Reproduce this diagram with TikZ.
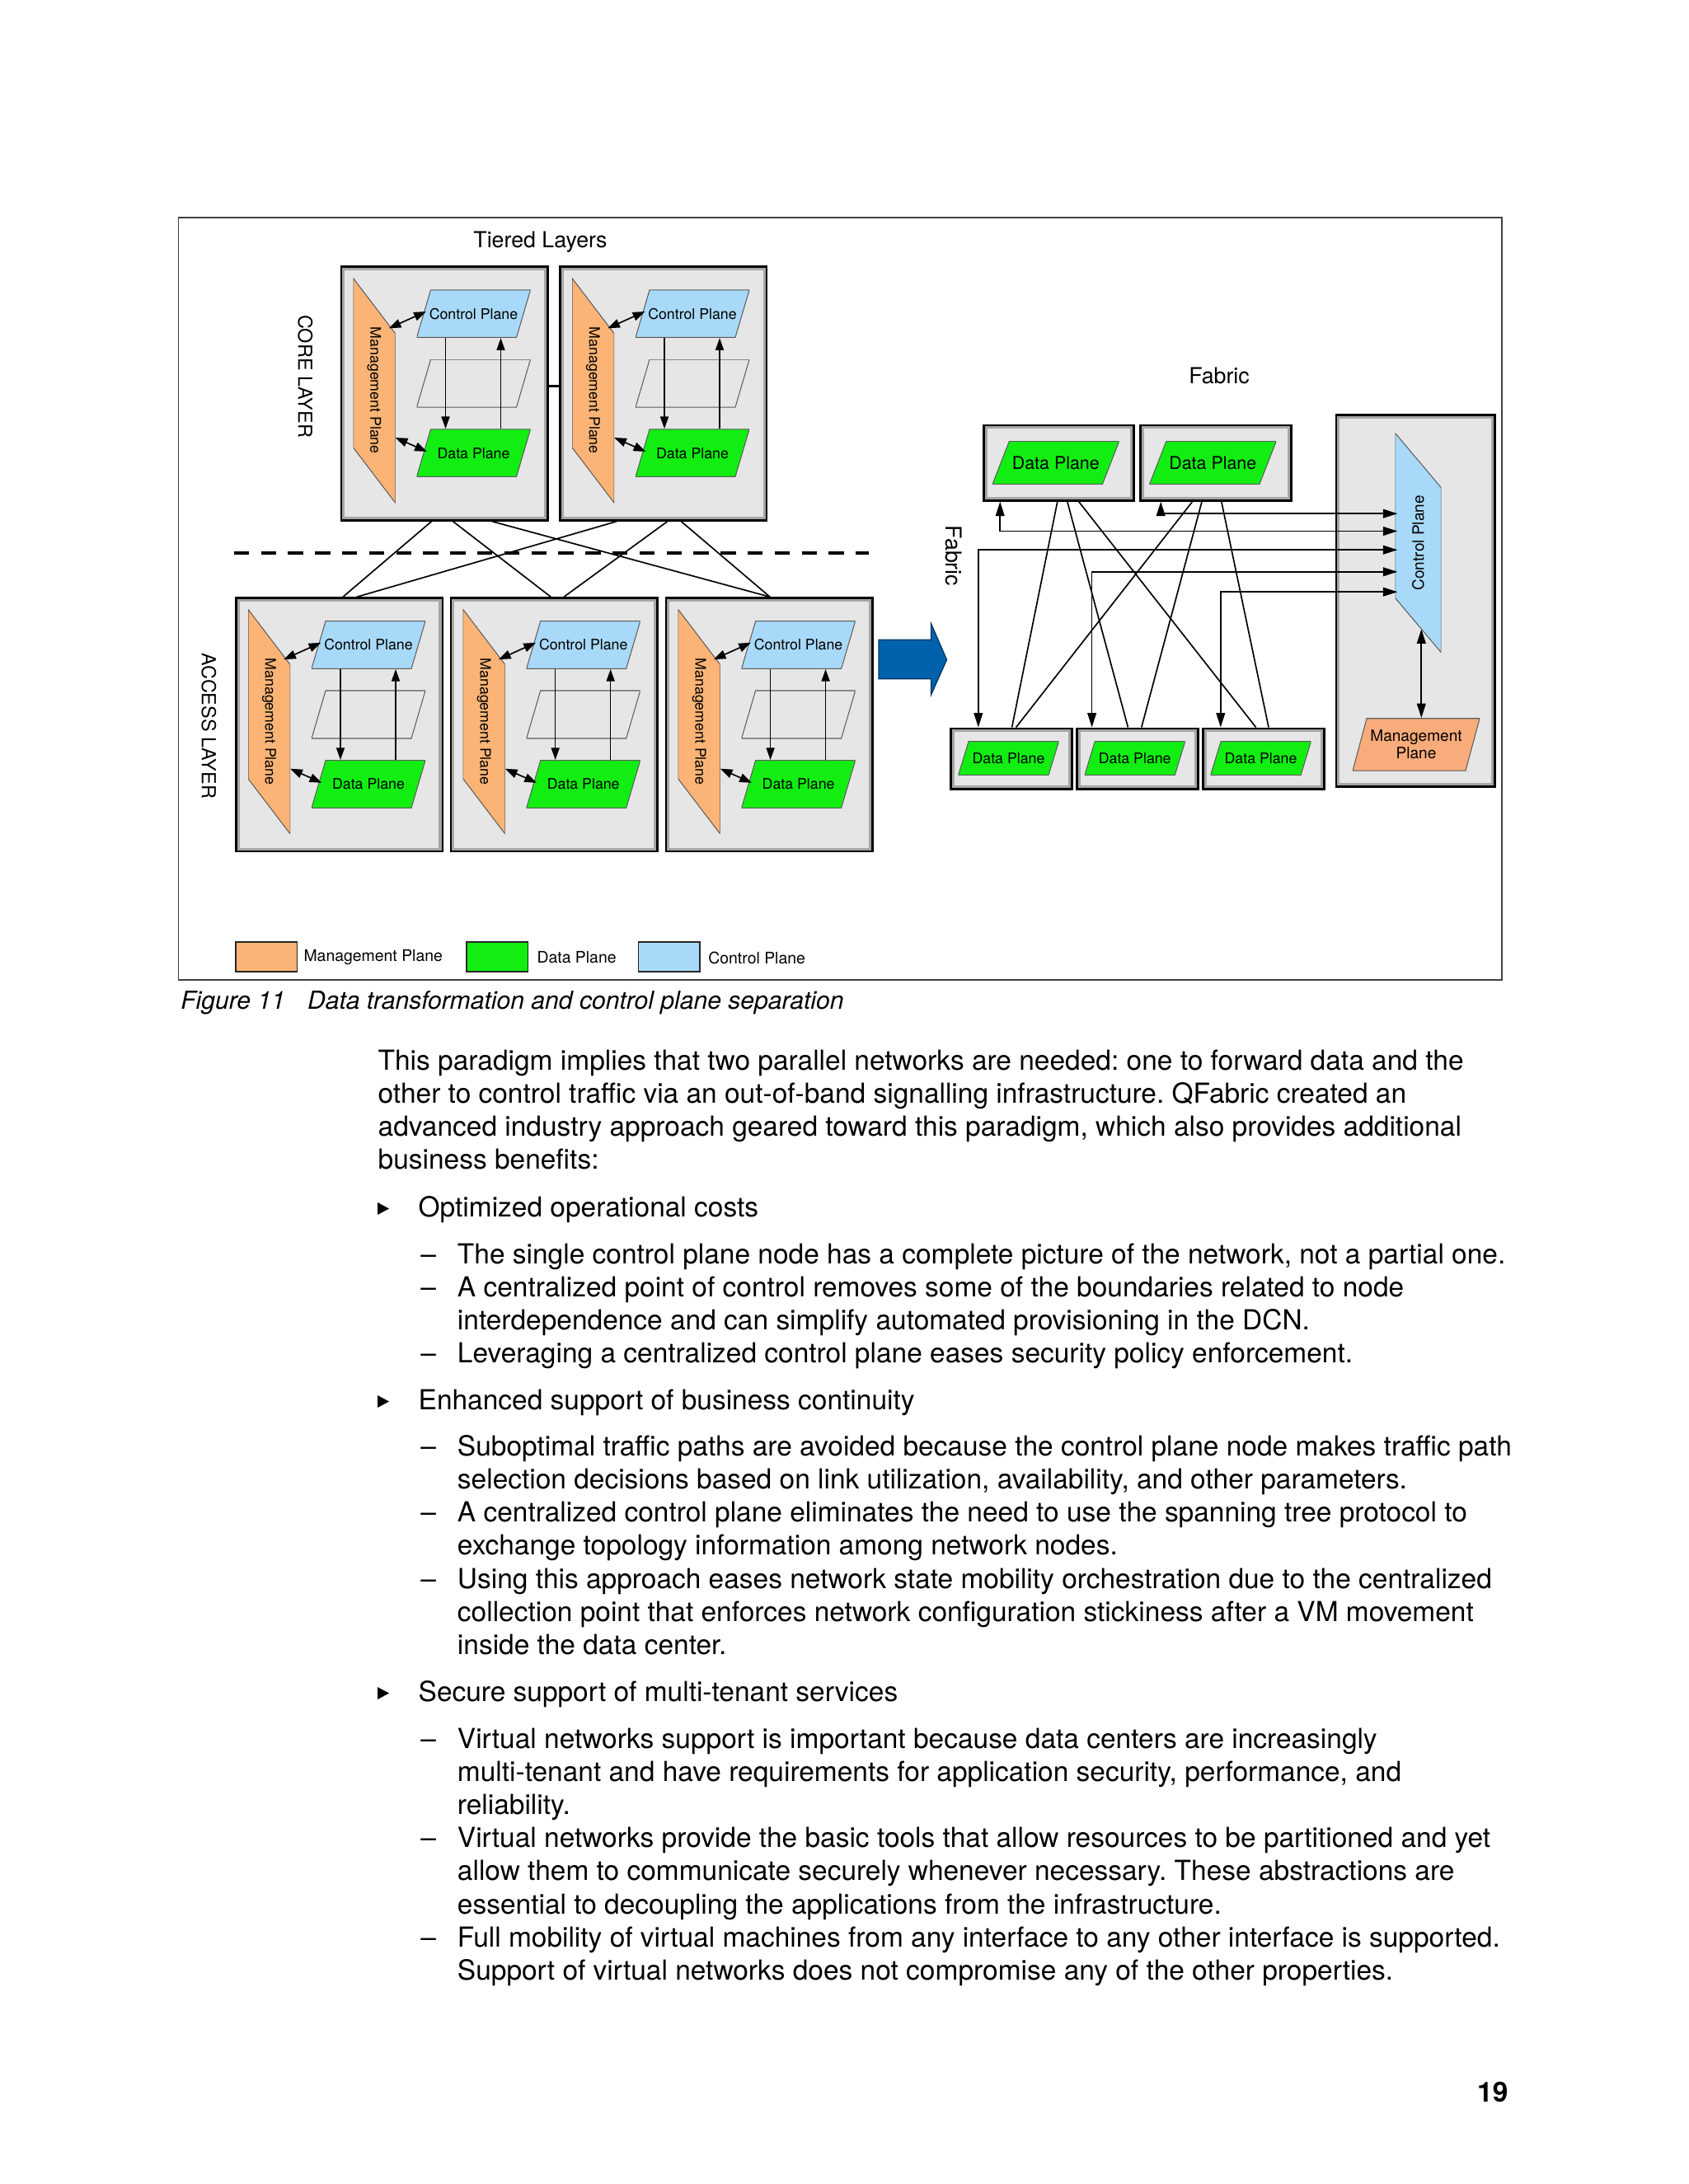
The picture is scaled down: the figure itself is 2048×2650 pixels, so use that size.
\documentclass[tikz,border=0pt]{standalone}
\usepackage{fontspec}
\setmainfont{TeX Gyre Heros}
\usepackage{graphicx}
\usetikzlibrary{arrows.meta,calc}
\frenchspacing

\definecolor{mgmtorange}{HTML}{FBB476}
\definecolor{fabricorange}{HTML}{F9AC7B}
\definecolor{ctrlblue}{HTML}{A9D9F8}
\definecolor{datagreen}{HTML}{12EE12}
\definecolor{boxgray}{HTML}{E6E6E6}
\definecolor{bandgray}{HTML}{A6A6A6}
\definecolor{arrowblue}{HTML}{0061AC}
\definecolor{planeedge}{HTML}{5A5A5A}

\newcommand{\pxl}{0.29877pt}

\begin{document}
\begin{tikzpicture}[
    x=0.29877pt, y=-0.29877pt,
    chassis/.style={draw=black, line width=0.8pt, fill=boxgray, inner sep=0, anchor=north west,
        path picture={\draw[bandgray, line width=2.6pt] (path picture bounding box.south west) rectangle (path picture bounding box.north east);}},
    lean/.store in=\planelean, lean=17,
    hplane/.style={inner sep=0, path picture={\draw[planeedge, line width=0.3pt, fill=#1]
        ([xshift=\planelean*\pxl]path picture bounding box.north west) -- (path picture bounding box.north east)
        -- ([xshift=-\planelean*\pxl]path picture bounding box.south east) -- (path picture bounding box.south west) -- cycle;}},
    vplane/.style={inner sep=0, path picture={\draw[planeedge, line width=0.3pt, fill=#1]
        (path picture bounding box.north west) -- ([yshift=-\planelean*\pxl]path picture bounding box.north east)
        -- (path picture bounding box.south east) -- ([yshift=\planelean*\pxl]path picture bounding box.south west) -- cycle;}},
    planefont/.style={font=\fontsize{5.3}{6}\selectfont},
    arr/.style={-{Triangle[length=4.4pt,width=3pt]}, line width=0.45pt},
    darr/.style={{Triangle[length=4.4pt,width=3.2pt]}-{Triangle[length=4.4pt,width=3.2pt]}, line width=0.5pt},
    farr/.style={{Triangle[length=5.2pt,width=3.2pt]}-{Triangle[length=5.2pt,width=3.2pt]}, line width=0.5pt},
    link/.style={line width=0.5pt},
    swatch/.style={draw=black!85, line width=0.5pt, minimum width=74.6*\pxl, minimum height=36*\pxl, inner sep=0},
    keytext/.style={anchor=west, inner sep=0, font=\fontsize{5.8}{7}\selectfont},
    bodytext/.style={anchor=base west, inner sep=0, font=\fontsize{10}{12}\selectfont}
]
    \useasboundingbox (0,0) rectangle (2048,2650);
    \fill[white] (0,0) rectangle (2048,2650);

    % figure frame
    \draw[black!75, line width=0.5pt] (216.5,264) rectangle (1822,1189);

    % tiered layers: two core and three access switches
    \foreach \n/\bx/\by in {c1/412.5/322.5, c2/678/322.5, a1/285/724.3, a2/545.7/724.3, a3/806.6/724.3} {
        \node[chassis, minimum width=250.5*\pxl, minimum height=307.5*\pxl] (sw\n) at (\bx,\by) {};
        \node[vplane=mgmtorange, lean=67, minimum width=51*\pxl, minimum height=272.5*\pxl, planefont] (mp\n) at ($(sw\n.north west)+(41.5,151.3)$) {\rotatebox{-90}{Management Plane}};
        \node[hplane=ctrlblue, lean=17, minimum width=138*\pxl, minimum height=57.6*\pxl, planefont] (cp\n) at ($(sw\n.north west)+(162,58.2)$) {Control Plane};
        \node[hplane=none, lean=17, minimum width=138*\pxl, minimum height=58*\pxl] (ep\n) at ($(sw\n.north west)+(162,142.7)$) {};
        \node[hplane=datagreen, lean=17, minimum width=138*\pxl, minimum height=57.6*\pxl, planefont] (dp\n) at ($(sw\n.north west)+(162,227.2)$) {Data Plane};
        \draw[arr] ([xshift=-34*\pxl]cp\n.south) -- ([xshift=-34*\pxl]dp\n.north);
        \draw[arr] ([xshift=33*\pxl]dp\n.north) -- ([xshift=33*\pxl]cp\n.south);
        \draw[darr] ($(mp\n.north east)+(-8.5,61.5)$) -- ($(cp\n.west)+(12,-2.7)$);
        \draw[darr] ($(mp\n.east)+(-0.5,57.2)$) -- ($(dp\n.west)+(13,-1.7)$);
    }

    \node[font=\fontsize{8}{9.6}\selectfont] (tiered) at (655.5,293.3) {Tiered Layers};
    \node[font=\fontsize{7}{8.4}\selectfont, rotate=-90] (corelabel) at (370.3,456.7) {CORE LAYER};
    \node[font=\fontsize{7}{8.4}\selectfont, rotate=-90] (accesslabel) at (253.3,880.7) {ACCESS LAYER};

    \draw[line width=1pt] ($(swc1.north east)+(0,146.2)$) -- ($(swc2.north west)+(0,146.2)$);
    \draw[line width=1.15pt, dash pattern=on 5.5pt off 4.3pt] (283.8,670.7) -- (1054,670.7);

    \draw[link] ($(swc1.south west)+(111,0)$) -- ($(swa1.north west)+(131,0)$);
    \draw[link] ($(swc1.south west)+(137,0)$) -- ($(swa2.north west)+(122.6,0)$);
    \draw[link] ($(swc1.south west)+(184.4,0)$) -- ($(swa3.north west)+(127.5,0)$);
    \draw[link] ($(swc2.south west)+(70,0)$) -- ($(swa1.north west)+(147.8,0)$);
    \draw[link] ($(swc2.south west)+(131.7,0)$) -- ($(swa2.north west)+(138.3,0)$);
    \draw[link] ($(swc2.south west)+(148.4,0)$) -- ($(swa3.north west)+(127.5,0)$);

    % transformation arrow
    \draw[fill=arrowblue, draw=arrowblue!60!black, line width=0.4pt] (1066,776.4) -- (1129.6,776.4) -- (1129.6,756.8) -- (1148.5,800.5) -- (1129.6,842.9) -- (1129.6,823.6) -- (1066,823.6) -- cycle;

    % fabric
    \node[font=\fontsize{8}{9.6}\selectfont] (fabrictitle) at (1479,456.2) {Fabric};
    \node[font=\fontsize{8}{9.6}\selectfont, rotate=-90] (fabricside) at (1157,674.5) {Fabric};

    \node[chassis, minimum width=182.6*\pxl, minimum height=91.3*\pxl] (fa) at (1191.8,514.7) {};
    \node[chassis, minimum width=182.6*\pxl, minimum height=91.3*\pxl] (fb) at (1382.3,514.7) {};
    \node[hplane=datagreen, lean=20.4, minimum width=153.8*\pxl, minimum height=52.3*\pxl, font=\fontsize{6.4}{7.5}\selectfont] (fdpa) at ($(fa.north west)+(89,46.9)$) {Data Plane};
    \node[hplane=datagreen, lean=20.4, minimum width=153.8*\pxl, minimum height=52.3*\pxl, font=\fontsize{6.4}{7.5}\selectfont] (fdpb) at ($(fb.north west)+(89,46.9)$) {Data Plane};

    \foreach \n/\bx in {1/1152, 2/1305.2, 3/1458} {
        \node[chassis, minimum width=147*\pxl, minimum height=73.7*\pxl] (f\n) at (\bx,882.5) {};
        \node[hplane=datagreen, lean=12.5, minimum width=121.9*\pxl, minimum height=41*\pxl, font=\fontsize{5.3}{6.4}\selectfont] (fdp\n) at ($(f\n.north west)+(71.5,37.7)$) {Data Plane};
    }

    \node[chassis, minimum width=192.7*\pxl, minimum height=450.5*\pxl] (ctrlbox) at (1619.5,502.5) {};
    \node[vplane=ctrlblue, lean=66, minimum width=55.6*\pxl, minimum height=266*\pxl, font=\fontsize{5.7}{7}\selectfont] (fcp) at (1720.5,658.7) {\rotatebox{90}{Control Plane}};
    \node[hplane=fabricorange, lean=17, minimum width=154*\pxl, minimum height=63.3*\pxl, font=\fontsize{5.7}{6.2}\selectfont, align=center] (fmp) at (1718,903.4) {Management\\Plane};

    \draw[link] ($(fa.south west)+(91,0)$) -- ($(f1.north west)+(75.6,0)$);
    \draw[link] ($(fa.south west)+(103,0)$) -- ($(f2.north west)+(63.2,0)$);
    \draw[link] ($(fa.south west)+(116.9,0)$) -- ($(f3.north west)+(65.6,0)$);
    \draw[link] ($(fb.south west)+(64.2,0)$) -- ($(f1.north west)+(80.6,0)$);
    \draw[link] ($(fb.south west)+(75.7,0)$) -- ($(f2.north west)+(79.6,0)$);
    \draw[link] ($(fb.south west)+(99.5,0)$) -- ($(f3.north west)+(81,0)$);

    \draw[farr] ($(fb.south west)+(25.9,0)$) |- ($(fcp.west)+(3.3,-35.5)$);
    \draw[farr] ($(fa.south west)+(21.4,0)$) |- ($(fcp.west)+(3.3,-14.2)$);
    \draw[farr] ($(f1.north west)+(34.8,0)$) |- ($(fcp.west)+(3.3,8.5)$);
    \draw[farr] ($(f2.north west)+(19.4,0)$) |- ($(fcp.west)+(3.3,35.1)$);
    \draw[farr] ($(f3.north west)+(22.8,0)$) |- ($(fcp.west)+(3.3,59.5)$);
    \draw[farr] ($(fcp.south)+(3.8,-29)$) -- ($(fmp.north)+(6.3,0)$);

    % legend
    \node[swatch, fill=mgmtorange] (keymp) at (323.1,1161.3) {};
    \node[keytext] (keymptext) at (367.9,1162) {Management Plane};
    \node[swatch, fill=datagreen] (keydp) at (603.2,1161.3) {};
    \node[keytext] (keydptext) at (650.9,1162) {Data Plane};
    \node[swatch, fill=ctrlblue] (keycp) at (811.7,1161.3) {};
    \node[keytext] (keycptext) at (858.7,1162) {Control Plane};

    % caption
    \node[anchor=base west, inner sep=0, font=\itshape\fontsize{9}{11}\selectfont] (capnum) at (218.6,1224) {Figure 11};
    \node[anchor=base west, inner sep=0, font=\itshape\fontsize{9}{11}\selectfont] (captext) at (372.5,1224) {Data transformation and control plane separation};

    % body text
    \node[bodytext] (p1) at (458,1298) {This paradigm implies that two parallel networks are needed: one to forward data and the};
    \node[bodytext] (p2) at (458,1338) {other to control traffic via an out-of-band signalling infrastructure. QFabric created an};
    \node[bodytext] (p3) at (458,1378) {advanced industry approach geared toward this paradigm, which also provides additional};
    \node[bodytext] (p4) at (458,1418) {business benefits:};

    \fill (458,1459) -- (458,1474) -- (472,1466.5) -- cycle;
    \node[bodytext] (b1) at (507,1476) {Optimized operational costs};
    \node[bodytext] (d1) at (509.6,1533) {–};
    \node[bodytext] (s1) at (554.3,1533) {The single control plane node has a complete picture of the network, not a partial one.};
    \node[bodytext] (d2) at (509.6,1573) {–};
    \node[bodytext] (s2) at (554.3,1573) {A centralized point of control removes some of the boundaries related to node};
    \node[bodytext] (s2b) at (554.3,1613) {interdependence and can simplify automated provisioning in the DCN.};
    \node[bodytext] (d3) at (509.6,1653) {–};
    \node[bodytext] (s3) at (554.3,1653) {Leveraging a centralized control plane eases security policy enforcement.};

    \fill (458,1693) -- (458,1708) -- (472,1700.5) -- cycle;
    \node[bodytext] (b2) at (507,1710) {Enhanced support of business continuity};
    \node[bodytext] (d4) at (509.6,1766) {–};
    \node[bodytext] (s4) at (554.3,1766) {Suboptimal traffic paths are avoided because the control plane node makes traffic path};
    \node[bodytext] (s4b) at (554.3,1806) {selection decisions based on link utilization, availability, and other parameters.};
    \node[bodytext] (d5) at (509.6,1846) {–};
    \node[bodytext] (s5) at (554.3,1846) {A centralized control plane eliminates the need to use the spanning tree protocol to};
    \node[bodytext] (s5b) at (554.3,1886) {exchange topology information among network nodes.};
    \node[bodytext] (d6) at (509.6,1927) {–};
    \node[bodytext] (s6) at (554.3,1927) {Using this approach eases network state mobility orchestration due to the centralized};
    \node[bodytext] (s6b) at (554.3,1967) {collection point that enforces network configuration stickiness after a VM movement};
    \node[bodytext] (s6c) at (554.3,2007) {inside the data center.};

    \fill (458,2047) -- (458,2062) -- (472,2054.5) -- cycle;
    \node[bodytext] (b3) at (507,2064) {Secure support of multi-tenant services};
    \node[bodytext] (d7) at (509.6,2121) {–};
    \node[bodytext] (s7) at (554.3,2121) {Virtual networks support is important because data centers are increasingly};
    \node[bodytext] (s7b) at (554.3,2161) {multi-tenant and have requirements for application security, performance, and};
    \node[bodytext] (s7c) at (554.3,2201) {reliability.};
    \node[bodytext] (d8) at (509.6,2241) {–};
    \node[bodytext] (s8) at (554.3,2241) {Virtual networks provide the basic tools that allow resources to be partitioned and yet};
    \node[bodytext] (s8b) at (554.3,2281) {allow them to communicate securely whenever necessary. These abstractions are};
    \node[bodytext] (s8c) at (554.3,2322) {essential to decoupling the applications from the infrastructure.};
    \node[bodytext] (d9) at (509.6,2362) {–};
    \node[bodytext] (s9) at (554.3,2362) {Full mobility of virtual machines from any interface to any other interface is supported.};
    \node[bodytext] (s9b) at (554.3,2402) {Support of virtual networks does not compromise any of the other properties.};

    % page number
    \node[anchor=base east, inner sep=0, font=\bfseries\fontsize{10}{12}\selectfont] (pagenum) at (1830,2550) {19};
\end{tikzpicture}
\end{document}
